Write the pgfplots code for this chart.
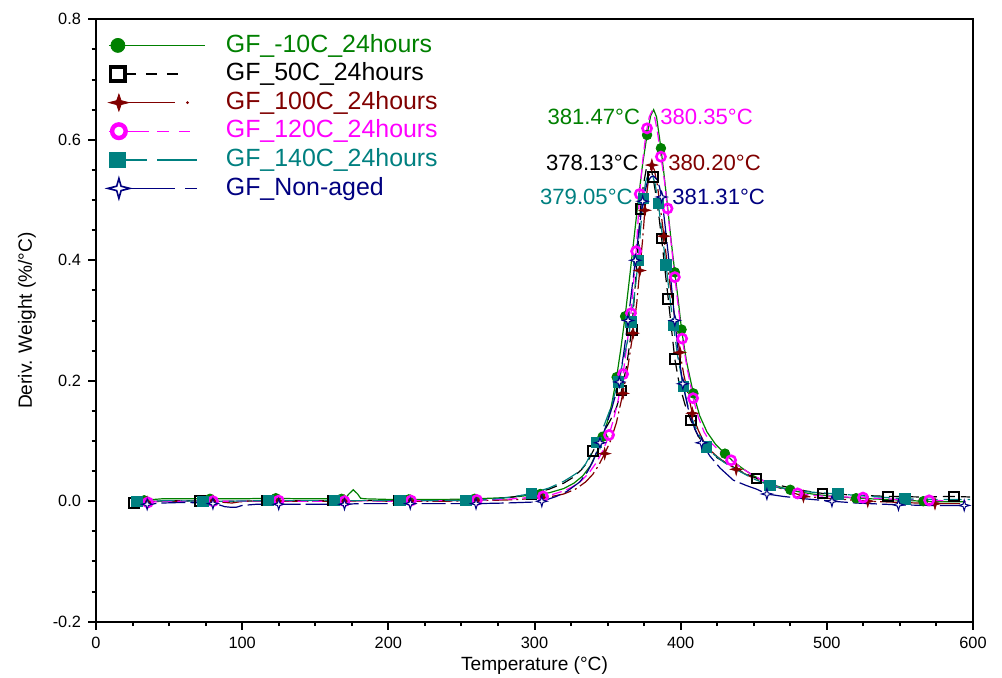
\documentclass[border=0pt]{standalone}
\usepackage{fontspec}
\setmainfont{Liberation Sans}
\usepackage{pgfplots}
\pgfplotsset{compat=1.18}
\usepackage{pgfplotstable}

\definecolor{gcol}{RGB}{0,128,0}
\definecolor{dred}{RGB}{128,0,0}
\definecolor{mcol}{RGB}{255,0,255}
\definecolor{tcol}{RGB}{0,128,128}
\definecolor{ncol}{RGB}{0,0,128}

\pgfdeclareplotmark{star4}{%
  \pgfpathmoveto{\pgfqpoint{0pt}{\pgfplotmarksize}}%
  \pgfpathlineto{\pgfqpoint{0.22\pgfplotmarksize}{0.22\pgfplotmarksize}}%
  \pgfpathlineto{\pgfqpoint{\pgfplotmarksize}{0pt}}%
  \pgfpathlineto{\pgfqpoint{0.22\pgfplotmarksize}{-0.22\pgfplotmarksize}}%
  \pgfpathlineto{\pgfqpoint{0pt}{-\pgfplotmarksize}}%
  \pgfpathlineto{\pgfqpoint{-0.22\pgfplotmarksize}{-0.22\pgfplotmarksize}}%
  \pgfpathlineto{\pgfqpoint{-\pgfplotmarksize}{0pt}}%
  \pgfpathlineto{\pgfqpoint{-0.22\pgfplotmarksize}{0.22\pgfplotmarksize}}%
  \pgfpathclose
  \pgfusepathqfillstroke
}

% GF_-10C_24hours
\pgfplotstableread{
x y
25 -0.001
28 0.000
35 0.002
45 0.004
60 0.004
80 0.004
100 0.004
120 0.005
140 0.004
160 0.004
169 0.004
171 0.006
173 0.012
176 0.019
179 0.012
181 0.005
184 0.004
200 0.003
220 0.003
240 0.003
260 0.004
280 0.006
290 0.008
300 0.011
310 0.014
320 0.021
327 0.030
333 0.042
338 0.058
342.5 0.080
346.6 0.107
350 0.133
353 0.163
356.2 0.206
359 0.252
362 0.307
365 0.370
368 0.435
371 0.500
374 0.560
377 0.608
379.5 0.640
381.5 0.650
383.5 0.638
386.5 0.586
388.5 0.545
391 0.490
393.5 0.432
396 0.380
398.5 0.330
400.6 0.285
404 0.232
408.7 0.179
413 0.142
418 0.115
424 0.094
430.3 0.079
436 0.066
442 0.055
450 0.042
460 0.030
470 0.022
480 0.016
490 0.012
500 0.009
520 0.005
540 0.003
566 0.000
580 -0.001
595 -0.001
}\greenline

% GF_50C_24hours
\pgfplotstableread{
x y
25 -0.003
30 -0.002
40 0.000
60 0.001
71 0.000
100 0.000
117 0.001
140 0.001
162 0.001
180 0.001
207 0.001
230 0.001
253 0.001
270 0.003
285 0.007
298 0.012
310 0.020
320 0.030
326 0.039
332 0.052
336 0.064
340 0.083
344 0.100
348 0.118
352 0.135
356 0.155
359.6 0.184
363 0.225
366.5 0.284
369 0.360
371 0.430
372.5 0.485
374.5 0.525
376.5 0.552
378.1 0.560
379.5 0.555
381 0.538
383 0.510
385 0.475
387 0.436
389 0.390
391.5 0.336
394 0.280
396 0.236
399 0.195
403 0.160
407 0.134
412 0.108
418 0.088
425 0.072
435 0.058
445 0.045
452 0.038
465 0.028
480 0.019
497 0.013
520 0.010
542 0.008
565 0.007
587 0.008
598 0.007
}\blackline

% GF_100C_24hours
\pgfplotstableread{
x y
25 -0.002
35 -0.002
45 0.000
60 0.000
80 0.000
88 -0.002
93 -0.003
98 -0.001
105 0.000
125 0.000
140 0.000
160 0.000
170 0.000
185 0.001
200 0.000
215 0.000
240 0.000
260 0.001
280 0.002
290 0.003
305 0.006
310 0.007
320 0.012
328 0.020
335 0.032
340 0.045
344 0.060
348 0.079
352 0.100
356 0.130
360.5 0.179
364 0.225
367.4 0.279
370 0.330
372 0.383
374 0.435
375.5 0.483
377.5 0.525
379.2 0.550
380.3 0.558
382 0.550
384 0.525
386 0.490
388.5 0.440
391 0.390
394 0.338
397 0.286
399.5 0.247
402 0.212
405 0.178
408 0.146
412 0.118
416 0.098
420 0.085
425 0.074
430 0.065
438 0.053
450 0.038
460 0.028
470 0.020
484 0.008
500 0.005
528 0.000
550 -0.002
574 -0.004
595 -0.004
}\redline

% GF_120C_24hours
\pgfplotstableread{
x y
25 -0.003
30 -0.003
35.5 -0.002
45 0.000
60 0.000
80 0.000
100 0.000
125 0.001
140 0.000
160 0.000
170 0.000
185 0.001
200 0.000
215.5 0.001
240 0.001
260.6 0.002
280 0.003
290 0.005
305.8 0.008
312 0.011
320 0.017
326 0.024
332 0.034
337 0.046
342 0.063
346 0.080
349 0.097
351 0.110
354 0.135
357 0.165
360.6 0.211
363 0.255
366 0.312
368 0.370
369.5 0.415
372 0.510
374 0.565
376 0.605
377 0.619
378.5 0.638
380.3 0.647
382 0.640
384 0.615
386.5 0.572
389 0.530
391 0.486
393.5 0.428
396 0.372
398.5 0.320
401 0.270
404.5 0.220
408.5 0.171
412 0.140
416 0.115
420 0.099
425 0.087
430 0.077
434.5 0.068
440 0.058
450 0.042
460 0.030
470 0.020
480 0.013
490 0.010
500 0.008
524.7 0.006
550 0.003
570 0.0015
595 0.000
}\magline

% GF_140C_24hours
\pgfplotstableread{
x y
25 0.000
28 0.000
35 0.000
50 0.001
73 0.000
90 0.000
118 0.001
140 0.001
163 0.001
180 0.001
208 0.001
230 0.001
253 0.001
270 0.003
285 0.007
298 0.013
310 0.022
320 0.033
326 0.042
331 0.050
335 0.062
338.5 0.078
342.5 0.098
347 0.122
352 0.154
357.3 0.198
361 0.237
364 0.270
366 0.298
368.5 0.345
371 0.400
372.5 0.450
374.4 0.503
376 0.530
378 0.544
379 0.546
380.5 0.543
382.5 0.527
384.7 0.494
387 0.450
390 0.392
392.5 0.340
395 0.292
398 0.240
401.8 0.191
405 0.158
409 0.129
413 0.108
417.8 0.090
423 0.077
430 0.064
440 0.050
450 0.037
461 0.026
475 0.019
490 0.015
507.5 0.012
530 0.008
553.5 0.004
575 0.003
598 0.003
}\tealline

% GF_Non-aged
\pgfplotstableread{
x y
25 -0.003
30 -0.005
35 -0.005
45 -0.003
60 -0.002
75 -0.003
83 -0.005
88 -0.009
92 -0.010
96 -0.010
100 -0.007
110 -0.005
125 -0.005
140 -0.005
160 -0.005
170 -0.005
180 -0.004
200 -0.004
215 -0.004
240 -0.004
260 -0.004
280 -0.003
292 -0.002
304 -0.001
315 0.008
322 0.016
331 0.032
336 0.048
340 0.066
344.8 0.097
349 0.125
353 0.155
358 0.198
361 0.245
364 0.300
366.5 0.350
369 0.400
371.5 0.450
374 0.498
377 0.528
379.5 0.538
381.3 0.540
383.5 0.535
385.5 0.522
387 0.505
389 0.465
391.5 0.410
394 0.350
396 0.300
398.5 0.245
401.5 0.195
405 0.155
409.5 0.121
414.3 0.097
420 0.075
427 0.055
436 0.035
445 0.026
452 0.020
459 0.012
470 0.008
485 0.004
503.5 0.000
520 -0.003
549 -0.006
570 -0.007
594 -0.007
}\navyline

\begin{document}
\begin{tikzpicture}
\begin{axis}[
  width=438.5bp, height=301.2bp, scale only axis,
  xmin=0, xmax=600, ymin=-0.2, ymax=0.8,
  xtick={0,100,...,600}, ytick={-0.2,0,0.2,0.4,0.6,0.8},
  minor x tick num=3, minor y tick num=3,
  tick pos=left, tick align=outside,
  major tick length=4bp, minor tick length=2.2bp,
  axis line style={line width=1bp},
  tick style={black, line width=1bp},
  /pgf/number format/assume math mode=true,
  ticklabel style={font=\fontsize{8.2}{10}\selectfont},
  y tick label style={/pgf/number format/fixed, /pgf/number format/fixed zerofill, /pgf/number format/precision=1},
  x tick label style={/pgf/number format/fixed, /pgf/number format/precision=0},
  label style={font=\fontsize{9.6}{11}\selectfont},
  xlabel={Temperature (°C)},
  ylabel={Deriv. Weight (\%/°C)},
  xlabel style={at={(axis description cs:0.5,-0.073)}, anchor=center},
  ylabel style={at={(axis description cs:-0.0787,0.5)}, anchor=center},
  legend cell align=left,
  legend style={at={(axis description cs:0,1)}, anchor=north west,
    xshift=5.35bp, yshift=-5.7bp, draw=none, fill=none, inner sep=0pt,
    row sep=0pt, font=\fontsize{12.5}{14}\selectfont,
    nodes={inner xsep=0pt, inner ysep=1bp, text height=9.5bp, text depth=2.8bp}},
]
% lines
\addplot[gcol, line width=0.6bp, forget plot] table {\greenline};
\addplot[black, line width=0.6bp, dash pattern=on 6bp off 3bp, forget plot] table {\blackline};
\addplot[dred, line width=0.6bp, dash pattern=on 10bp off 2bp on 1bp off 2bp, forget plot] table {\redline};
\addplot[mcol, line width=0.6bp, dash pattern=on 5bp off 2.5bp, forget plot] table {\magline};
\addplot[tcol, line width=0.6bp, dash pattern=on 9bp off 3bp, forget plot] table {\tealline};
\addplot[ncol, line width=0.6bp, dash pattern=on 12bp off 2.5bp, forget plot] table {\navyline};
% markers
\addplot[only marks, mark=*, gcol, mark size=2.4bp, forget plot] coordinates {
(33,0.0015) (78,0.004) (123,0.005) (168,0.004) (214,0.003) (259,0.004) (304,0.012)
(346.6,0.107) (356.2,0.206) (362,0.307) (377,0.608) (386.5,0.586) (396,0.380)
(400.6,0.285) (408.7,0.179) (430.3,0.079) (475,0.019) (520,0.005) (566,0.000)};
\addplot[only marks, mark=square, black, mark size=2.4bp, mark options={line width=1bp, fill=white}, forget plot] coordinates {
(26,-0.003) (71,0) (117,0.001) (162,0.001) (207,0.001) (253,0.001) (298,0.012)
(340,0.083) (359.6,0.184) (366.5,0.284) (372.5,0.485) (381,0.538) (387,0.436)
(391.5,0.336) (396,0.236) (407,0.134) (452,0.038) (497,0.013) (542,0.008) (587,0.008)};
\addplot[only marks, mark=star4, dred, mark size=3bp, mark options={fill=dred, line width=0.3bp}, forget plot] coordinates {
(35,-0.002) (80,0) (125,0) (170,0) (215,0) (260,0.001) (305,0.006)
(348,0.079) (360.5,0.179) (367.4,0.279) (372,0.383) (375.5,0.483) (380.3,0.558)
(388.5,0.44) (399.5,0.247) (408,0.146) (438,0.053) (484,0.008) (528,0) (574,-0.004)};
\addplot[only marks, mark=o, mcol, mark size=2.3bp, mark options={line width=1.3bp}, forget plot] coordinates {
(35.5,-0.002) (80,0) (125,0.001) (170,0) (215.5,0.001) (260.6,0.002) (305.8,0.008)
(351,0.110) (360.6,0.211) (366,0.312) (369.5,0.415) (372,0.510) (377,0.619)
(386.5,0.572) (391,0.486) (396,0.372) (401,0.270) (408.5,0.171) (434.5,0.068)
(480,0.013) (524.7,0.006) (570,0.0015)};
\addplot[only marks, mark=square*, tcol, mark size=2.6bp, forget plot] coordinates {
(28,0) (73,0) (118,0.001) (163,0.001) (208,0.001) (253,0.001) (298,0.013)
(342.5,0.098) (357.3,0.198) (366,0.298) (371,0.400) (374.4,0.503) (384.7,0.494)
(390,0.392) (395,0.292) (401.8,0.191) (417.8,0.090) (461,0.026) (507.5,0.012) (553.5,0.004)};
\addplot[only marks, mark=star4, ncol, mark size=2.7bp, mark options={fill=white, line width=0.5bp}, forget plot] coordinates {
(35,-0.005) (80,-0.004) (125,-0.005) (170,-0.005) (215,-0.004) (260,-0.004) (305,0.000)
(344.8,0.097) (358,0.198) (364,0.300) (369,0.400) (374,0.498) (387,0.505)
(396,0.300) (401.5,0.195) (414.3,0.097) (459,0.012) (503.5,0.0) (549,-0.006) (594,-0.007)};

% legend
\addlegendimage{legend image code/.code={
  \path[draw=none, fill=none] (0bp,0bp) rectangle (58.5bp,0bp);
  \draw[gcol, line width=0.7bp] (0bp,0bp) -- (48.3bp,0bp);
  \fill[gcol] (4.5bp,0bp) circle (3.5bp);}}
\addlegendentry{\textcolor{gcol}{GF\_-10C\_24hours}}
\addlegendimage{legend image code/.code={
  \path[draw=none, fill=none] (0bp,0bp) rectangle (58.5bp,0bp);
  \draw[black, line width=0.7bp, dash pattern=on 5.5bp off 5bp] (8bp,0bp) -- (37.5bp,0bp);
  \draw[black, line width=1.8bp, fill=white] (0.9bp,-3.5bp) rectangle (8.1bp,3.5bp);}}
\addlegendentry{\textcolor{black}{GF\_50C\_24hours}}
\addlegendimage{legend image code/.code={
  \path[draw=none, fill=none] (0bp,0bp) rectangle (58.5bp,0bp);
  \draw[dred, line width=0.7bp] (0bp,0bp) -- (33bp,0bp);
  \fill[dred] (39.3bp,0bp) circle (0.5bp);
  \fill[dred] (5bp,4.2bp) -- (6.1bp,1bp) -- (10bp,0bp) -- (6.1bp,-1bp) -- (5bp,-4.2bp) -- (3.9bp,-1bp) -- (0bp,0bp) -- (3.9bp,1bp) -- cycle;}}
\addlegendentry{\textcolor{dred}{GF\_100C\_24hours}}
\addlegendimage{legend image code/.code={
  \path[draw=none, fill=none] (0bp,0bp) rectangle (58.5bp,0bp);
  \draw[mcol, line width=0.7bp, dash pattern=on 20bp off 4.2bp on 5.8bp off 5bp on 5.8bp off 60bp] (0bp,0bp) -- (41bp,0bp);
  \draw[mcol, line width=2.2bp, fill=white] (5bp,0bp) circle (3.4bp);}}
\addlegendentry{\textcolor{mcol}{GF\_120C\_24hours}}
\addlegendimage{legend image code/.code={
  \path[draw=none, fill=none] (0bp,0bp) rectangle (58.5bp,0bp);
  \draw[tcol, line width=0.7bp, dash pattern=on 19.2bp off 5bp on 20bp off 60bp] (0bp,0bp) -- (44.2bp,0bp);
  \fill[tcol] (0.4bp,-3.6bp) rectangle (8.4bp,3.6bp);}}
\addlegendentry{\textcolor{tcol}{GF\_140C\_24hours}}
\addlegendimage{legend image code/.code={
  \path[draw=none, fill=none] (0bp,0bp) rectangle (58.5bp,0bp);
  \draw[ncol, line width=0.7bp, dash pattern=on 33.3bp off 5bp on 5.9bp off 60bp] (0bp,0bp) -- (44.2bp,0bp);
  \draw[ncol, line width=0.8bp, fill=white] (5bp,5bp) -- (6.1bp,1.1bp) -- (10.5bp,0bp) -- (6.1bp,-1.1bp) -- (5bp,-5bp) -- (3.9bp,-1.1bp) -- (-0.5bp,0bp) -- (3.9bp,1.1bp) -- cycle;}}
\addlegendentry{\textcolor{ncol}{GF\_Non-aged}}

% peak labels
\node[anchor=east, text=gcol, inner sep=0pt, font=\fontsize{11.1}{13}\selectfont] at (axis cs:372.5,0.638) {381.47°C};
\node[anchor=west, text=mcol, inner sep=0pt, font=\fontsize{11.1}{13}\selectfont] at (axis cs:385.8,0.638) {380.35°C};
\node[anchor=east, text=black, inner sep=0pt, font=\fontsize{11.1}{13}\selectfont] at (axis cs:371.5,0.561) {378.13°C};
\node[anchor=west, text=dred, inner sep=0pt, font=\fontsize{11.1}{13}\selectfont] at (axis cs:391.3,0.561) {380.20°C};
\node[anchor=east, text=tcol, inner sep=0pt, font=\fontsize{11.1}{13}\selectfont] at (axis cs:367.4,0.506) {379.05°C};
\node[anchor=west, text=ncol, inner sep=0pt, font=\fontsize{11.1}{13}\selectfont] at (axis cs:394.1,0.506) {381.31°C};

\coordinate (bl) at (rel axis cs:0,0);
\end{axis}
\pgfresetboundingbox
\path (bl) ++(-48bp,-28.15bp) rectangle ++(501bp,339bp);
\end{tikzpicture}
\end{document}
